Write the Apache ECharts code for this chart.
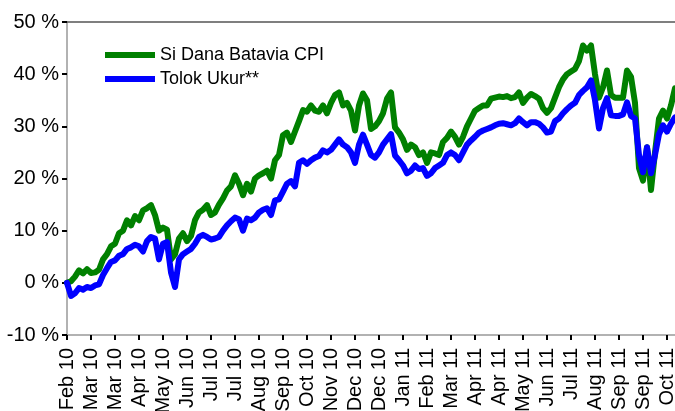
<!DOCTYPE html>
<html>
<head>
<meta charset="utf-8">
<script src="https://cdn.jsdelivr.net/npm/echarts@6/dist/echarts.min.js"></script>
<style>
html,body{margin:0;padding:0;background:#fff;}
#chart{width:675px;height:411px;}
</style>
</head>
<body>
<div id="chart"></div>
<script>
// month labels under the axis, one every 6 points
var monthLabels = ['Feb 10','Mar 10','Mar 10','Apr 10','May 10','Jun 10','Jul 10','Jul 10','Aug 10','Sep 10','Oct 10','Nov 10','Dec 10',
    'Dec 10','Jan 11','Feb 11','Mar 11','Apr 11','Apr 11','May 11','Jun 11','Jul 11','Aug 11','Sep 11','Sep 11','Oct 11']
var pointsPerLabel = 6

var seriesNames = ['Si Dana Batavia CPI','Tolok Ukur**']

// cumulative return, %
var danaBatavia = [0,0.3,1.2,2.4,1.8,2.6,1.9,2.0,2.5,4.5,
    5.5,7.0,7.5,9.5,10.0,12.0,11.0,12.8,12.0,13.9,
    14.3,14.9,13.0,10.0,10.6,10.2,4.5,5.5,8.5,9.5,
    8.0,9.0,12.0,13.5,14.0,14.9,13.0,13.5,15.0,16.2,
    17.7,18.5,20.6,19.0,16.8,19.0,17.5,20.0,20.6,21.0,
    21.5,20.0,23.5,24.5,28.3,28.8,27.0,29.0,31.0,33.1,
    32.8,34.0,33.0,32.8,34.0,32.5,34.5,36.0,36.5,34.0,
    34.5,33.0,29.2,34.0,36.3,35.0,29.5,30.0,31.0,32.5,
    35.3,36.5,29.8,28.8,27.5,25.5,26.5,26.0,24.5,25.0,
    23.0,25.0,24.8,24.5,27.0,27.8,29.0,28.0,26.5,28.0,
    30.0,31.5,33.0,33.5,34.0,34.0,35.3,35.5,35.7,35.6,
    35.8,35.4,35.6,36.5,34.5,35.5,36.2,35.8,35.3,33.5,
    32.6,33.5,35.5,37.5,39.0,40.0,40.5,41.0,42.5,45.5,
    44.5,45.5,40.0,35.5,37.5,40.7,36.0,35.5,35.5,35.5,
    40.7,39.5,34.5,22.0,19.6,26.0,17.8,25.0,31.5,33.0,
    31.5,34.0,37.3]

var tolokUkur = [0,-2.5,-2.0,-1.0,-1.3,-0.8,-1.0,-0.5,-0.3,1.5,
    2.8,4.0,4.3,5.2,5.5,6.5,6.8,7.3,7.0,6.0,
    8.0,8.8,8.5,4.5,7.5,7.8,2.0,-0.8,4.5,5.5,
    6.0,6.5,7.5,8.8,9.2,8.8,8.3,8.5,8.8,10.0,
    11.0,11.8,12.5,12.2,10.0,12.3,12.0,12.5,13.5,14.0,
    14.3,13.0,15.8,16.0,17.5,19.0,19.5,18.5,23.0,23.5,
    22.8,23.5,24.0,24.3,25.4,25.0,25.5,26.5,27.5,26.5,
    26.0,25.0,23.0,26.5,28.4,26.5,24.5,24.0,25.0,26.5,
    27.5,28.5,24.4,23.5,22.5,21.0,21.5,22.5,21.8,22.0,
    20.5,21.0,22.0,22.5,23.0,24.5,25.0,24.5,23.5,25.0,
    26.5,27.3,28.0,28.8,29.2,29.5,29.8,30.2,30.5,30.6,
    30.4,30.2,30.6,31.5,30.8,30.2,30.8,30.8,30.5,29.8,
    28.8,29.0,31.0,31.5,32.5,33.3,34.0,34.5,36.0,36.8,
    37.5,38.8,35.0,29.6,33.5,35.4,32.1,32.0,32.0,32.3,
    34.6,32.0,31.5,24.5,21.2,26.0,21.0,24.5,28.5,30.2,
    29.0,30.5,31.7]

var categories = danaBatavia.map(function(v,i){
    return i%pointsPerLabel==0 ? (monthLabels[i/pointsPerLabel]||'') : ''
})

function makeSerie(name,data,color){
    return {
        name:name,
        type:'line',
        data:data,
        showSymbol:false,
        symbol:'none',
        lineStyle:{width:6,color:color,cap:'round',join:'round'},
        itemStyle:{color:color}
    }
}

var font = '"Liberation Sans", Arial, sans-serif'
var chart = echarts.init(document.getElementById('chart'))
chart.setOption({
    animation:false,
    grid:{left:67,right:0,top:22,bottom:76,containLabel:false,outerBoundsMode:'none'},
    legend:{
        orient:'vertical',
        left:100,
        top:41,
        icon:'rect',
        itemWidth:50,
        itemHeight:6,
        itemGap:6,
        textStyle:{fontFamily:font,fontSize:18,color:'#000',lineHeight:18},
        data:seriesNames
    },
    xAxis:[{
        type:'category',
        boundaryGap:false,
        data:categories,
        axisLine:{onZero:false,lineStyle:{color:'#999',width:1.5}},
        axisTick:{interval:pointsPerLabel-1,length:5,lineStyle:{color:'#000',width:2}},
        axisLabel:{interval:pointsPerLabel-1,rotate:90,margin:13,fontFamily:font,fontSize:20,color:'#000'},
        splitLine:{show:false}
    },{
        type:'category',
        position:'top',
        boundaryGap:false,
        data:categories,
        axisLine:{onZero:false,lineStyle:{color:'#555',width:1.5}},
        axisTick:{show:false},
        axisLabel:{show:false}
    }],
    yAxis:{
        type:'value',
        min:-10,
        max:50,
        interval:10,
        axisLine:{show:true,lineStyle:{color:'#999',width:1.5}},
        axisTick:{show:true,length:5,lineStyle:{color:'#000',width:2}},
        axisLabel:{formatter:'{value} %',margin:8,fontFamily:font,fontSize:20,color:'#000'},
        splitLine:{show:false}
    },
    series:[
        makeSerie(seriesNames[0],danaBatavia,'#008000'),
        makeSerie(seriesNames[1],tolokUkur,'#0000ff')
    ]
})
</script>
</body>
</html>
